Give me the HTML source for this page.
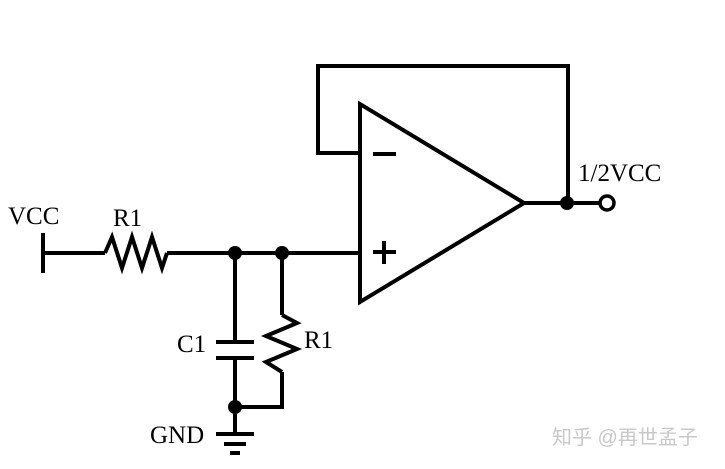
<!DOCTYPE html>
<html><head><meta charset="utf-8"><style>
html,body{margin:0;padding:0;background:#fff;}
svg{display:block;}
text{font-family:"Liberation Serif",serif;font-size:25px;fill:#000;}
</style></head><body>
<svg width="725" height="469" viewBox="0 0 725 469" xmlns="http://www.w3.org/2000/svg">
<g stroke="#000" stroke-width="4" fill="none" stroke-linejoin="miter">
<polygon points="360,104 360,302 524,203"/>
<polyline points="360,153 318,153 318,66 568,66 568,203"/>
<line x1="524" y1="203" x2="599" y2="203"/>
<circle cx="607" cy="203" r="7" stroke-width="3.5"/>
<line x1="373" y1="154" x2="396" y2="154"/>
<line x1="373" y1="252" x2="396" y2="252"/>
<line x1="384" y1="241" x2="384" y2="264"/>
<line x1="43" y1="233" x2="43" y2="273"/>
<line x1="43" y1="253" x2="105" y2="253"/>
<polyline points="105,253 112,237 122,268 132,237 142,268 152,237 162,268 167,253"/>
<line x1="167" y1="253" x2="360" y2="253"/>
<line x1="235" y1="253" x2="235" y2="342"/>
<line x1="216" y1="342" x2="254" y2="342"/>
<line x1="216" y1="358" x2="254" y2="358"/>
<line x1="235" y1="358" x2="235" y2="434"/>
<line x1="282" y1="253" x2="282" y2="315"/>
<polyline points="282,315 297,323 266,336 297,349 266,362 282,372"/>
<polyline points="282,372 282,407 235,407"/>
<line x1="216" y1="434" x2="254" y2="434"/>
<line x1="224" y1="444" x2="246" y2="444"/>
<line x1="230" y1="453" x2="240" y2="453"/>
</g>
<g fill="#000">
<circle cx="235" cy="253" r="7"/>
<circle cx="282" cy="253" r="7"/>
<circle cx="235" cy="407" r="7"/>
<circle cx="567" cy="203" r="7"/>
</g>
<text x="8" y="224">VCC</text>
<text x="113" y="226">R1</text>
<text x="177" y="352">C1</text>
<text x="304" y="348">R1</text>
<text x="150" y="443">GND</text>
<text x="578" y="181">1/2VCC</text>
<text x="552" y="444" style='font-family:"Liberation Sans","Noto Sans CJK SC",sans-serif;font-size:20px;fill:#c8c8c8'>知乎 @再世孟子</text>
</svg>
</body></html>
